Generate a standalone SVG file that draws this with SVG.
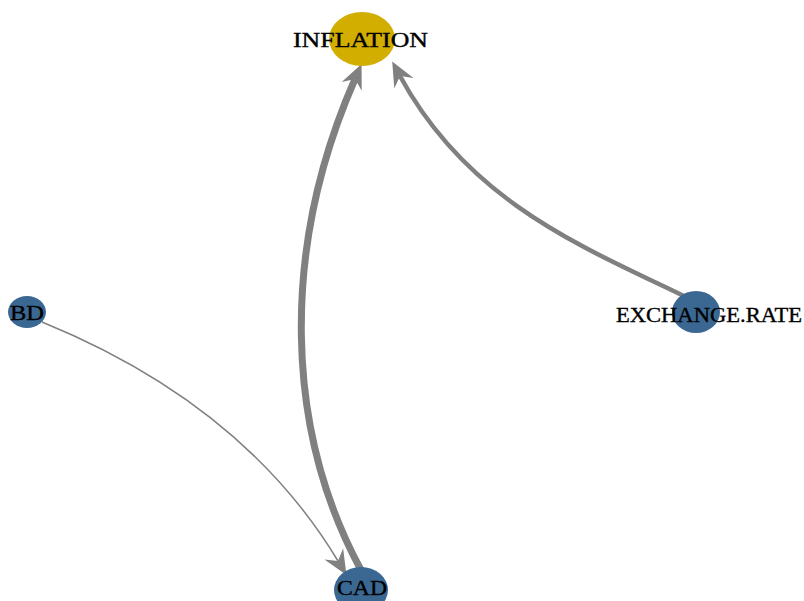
<svg xmlns="http://www.w3.org/2000/svg" width="804" height="601" viewBox="0 0 804 601">
  <style>
    .edge { fill: none; stroke: #808080; stroke-linecap: butt; }
    .node-blue { fill: #3a6893; }
    .node-gold { fill: #d1ae00; }
    .label { font-family: "Liberation Serif", "Times New Roman", serif; font-size: 21px; fill: #000000; stroke: #000000; stroke-width: 0.35; text-anchor: middle; }
  </style>
  <defs>
    <!-- notched arrowhead; the path ends at the notch, the tip reaches further -->
    <marker id="arrow" markerUnits="userSpaceOnUse" markerWidth="30" markerHeight="30" refX="0" refY="0" viewBox="-8 -10 22 20" orient="auto" overflow="visible">
      <path d="M12,0 L-6,-8 L0,0 L-6,8 Z" fill="#808080"/>
    </marker>
  </defs>

  <g id="edges">
    <path id="edge-cad-inflation" class="edge" stroke-width="7" marker-end="url(#arrow)"
          d="M361,570 C285,430 280,250 355,79"/>
    <path id="edge-exchange-inflation" class="edge" stroke-width="4.5" marker-end="url(#arrow)"
          d="M688,298 C590,250 470,205 400,76"/>
    <path id="edge-bd-cad" class="edge" stroke-width="1.5" marker-end="url(#arrow)"
          d="M42,322 C172,375 273,453 338,561"/>
  </g>

  <g id="node-inflation">
    <ellipse class="node-gold" cx="362" cy="39" rx="33" ry="27"/>
    <text class="label" x="360.5" y="47" textLength="135" lengthAdjust="spacingAndGlyphs">INFLATION</text>
  </g>
  <g id="node-bd">
    <ellipse class="node-blue" cx="27" cy="312" rx="19" ry="16"/>
    <text class="label" x="27" y="320" textLength="34" lengthAdjust="spacingAndGlyphs">BD</text>
  </g>
  <g id="node-exchange-rate">
    <ellipse class="node-blue" cx="696" cy="312" rx="24" ry="21"/>
    <text class="label" x="709" y="322" textLength="186" lengthAdjust="spacingAndGlyphs">EXCHANGE.RATE</text>
  </g>
  <g id="node-cad">
    <ellipse class="node-blue" cx="361" cy="590" rx="27" ry="23"/>
    <text class="label" x="362" y="595" textLength="50" lengthAdjust="spacingAndGlyphs">CAD</text>
  </g>
</svg>
